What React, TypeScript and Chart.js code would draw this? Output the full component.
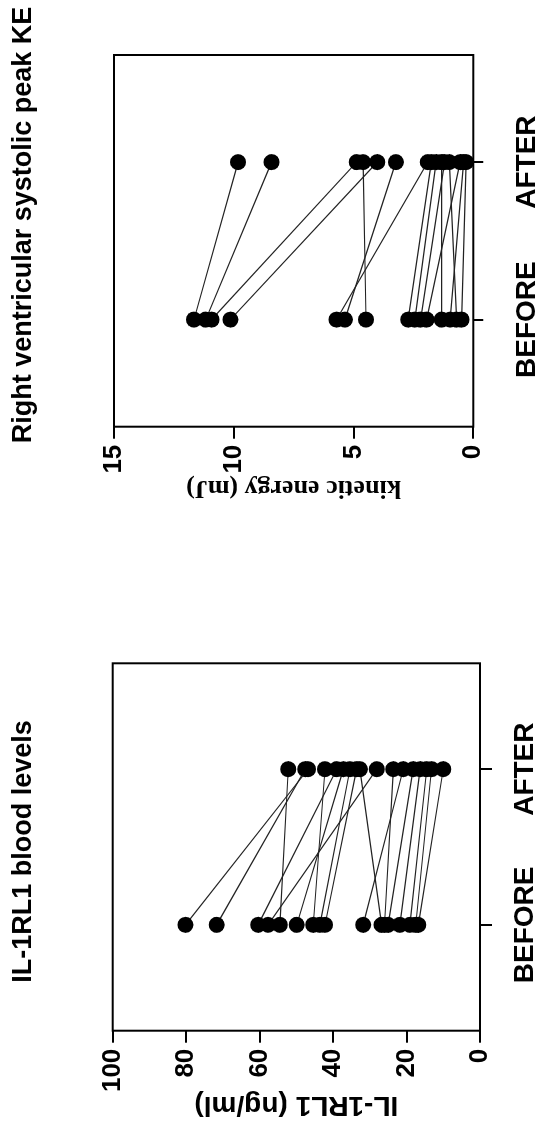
import React, { useEffect, useRef } from "react";
import { Chart, registerables } from "chart.js";
Chart.register(...registerables);

// ---------- data ----------
const categories = ["BEFORE", "AFTER"];

// Right ventricular systolic peak KE (mJ), one entry per subject
const keBefore = [11.66, 11.17, 10.93, 10.14, 5.71, 5.36, 4.48, 2.72, 2.44, 2.2, 1.95, 1.32, 0.97, 0.7, 0.49];
const keAfter = [9.82, 8.42, 4.87, 4.01, 1.9, 3.23, 4.6, 1.75, 1.55, 1.2, 0.55, 1.32, 0.4, 1.0, 0.3];
const keTicks = [0, 5, 10, 15];

// IL-1RL1 blood levels (ng/ml), one entry per subject
const ilBefore = [80.2, 71.7, 60.4, 57.7, 54.5, 49.9, 45.4, 43.6, 42.2, 31.8, 26.8, 26.0, 25.0, 21.8, 19.1, 17.5, 16.8];
const ilAfter = [46.8, 47.6, 39.0, 28.1, 52.2, 37.2, 42.2, 35.4, 33.6, 20.9, 32.7, 23.6, 18.2, 16.3, 14.5, 13.2, 10.0];
const ilTicks = [0, 20, 40, 60, 80, 100];

const SANS = "'Liberation Sans', Arial, sans-serif";
const SERIF = "'Liberation Serif', 'Times New Roman', serif";

// frame around the plot area + the chart heading drawn at a set centre
const framePlugin = {
  id: "plotFrame",
  afterDraw(chart: any, _args: any, opts: any) {
    const { ctx, chartArea: a } = chart;
    ctx.save();
    ctx.strokeStyle = "#000";
    ctx.lineWidth = 2;
    ctx.strokeRect(a.left, a.top, a.right - a.left, a.bottom - a.top);
    ctx.fillStyle = "#000";
    ctx.font = `bold ${opts.size}px ${SANS}`;
    ctx.textAlign = "center";
    ctx.textBaseline = "alphabetic";
    ctx.fillText(opts.text, opts.cx, opts.baseline);
    ctx.restore();
  },
};

type Spec = {
  title: string;
  titleCx: number;
  before: number[];
  after: number[];
  ticks: number[];
  yMax: number;
  yTitle: string;
  yTitleFont: any;
  yTitlePadTop: number;
  yWidth: number;
  xHeight: number;
  xTickLen: number;
  xPad: number;
  padRight: number;
  padTop: number;
};

function makeConfig(s: Spec): any {
  const datasets = s.before.map((b, i) => ({
    data: [
      { x: 0, y: b },
      { x: 1, y: s.after[i] },
    ],
    borderColor: "#222",
    borderWidth: 1.2,
    pointRadius: 8,
    pointBackgroundColor: "#000",
    pointBorderWidth: 0,
    showLine: true,
    fill: false,
  }));
  return {
    type: "scatter",
    data: { datasets },
    plugins: [framePlugin],
    options: {
      animation: false,
      responsive: false,
      events: [],
      layout: { padding: { left: 0, right: s.padRight, top: s.padTop, bottom: 0 } },
      plugins: {
        legend: { display: false },
        tooltip: { enabled: false },
        title: { display: false },
        plotFrame: { text: s.title, cx: s.titleCx, baseline: 30.5, size: 27 },
      },
      scales: {
        x: {
          type: "linear",
          min: -0.68,
          max: 1.68,
          afterBuildTicks: (sc: any) => {
            sc.ticks = categories.map((_, i) => ({ value: i }));
          },
          afterFit: (sc: any) => {
            sc.height = s.xHeight;
          },
          ticks: {
            callback: (v: any) => categories[v] ?? "",
            color: "#000",
            font: { family: SANS, size: 28, weight: "bold" },
            padding: s.xPad,
            maxRotation: 0,
            autoSkip: false,
          },
          grid: {
            display: true,
            drawOnChartArea: false,
            drawTicks: true,
            tickLength: s.xTickLen,
            color: "#000",
            lineWidth: 2,
          },
          border: { display: false },
        },
        y: {
          type: "linear",
          min: 0,
          max: s.yMax,
          afterBuildTicks: (sc: any) => {
            sc.ticks = s.ticks.map((v) => ({ value: v }));
          },
          afterFit: (sc: any) => {
            sc.width = s.yWidth;
          },
          ticks: {
            color: "#000",
            font: { family: SANS, size: 26, weight: "bold" },
            padding: 6,
          },
          grid: {
            display: true,
            drawOnChartArea: false,
            drawTicks: true,
            tickLength: 12,
            color: "#000",
            lineWidth: 2,
          },
          border: { display: false },
          title: {
            display: true,
            text: s.yTitle,
            color: "#000",
            font: s.yTitleFont,
            padding: { top: s.yTitlePadTop, bottom: 0 },
          },
        },
      },
    },
  };
}

function PairChart({ spec, left }: { spec: Spec; left: number }) {
  const ref = useRef<HTMLCanvasElement | null>(null);
  useEffect(() => {
    if (!ref.current) return;
    const chart = new Chart(ref.current, makeConfig(spec));
    return () => chart.destroy();
  }, []);
  return (
    <canvas
      ref={ref}
      width={569}
      height={541}
      style={{ position: "absolute", left, top: 0, width: 569, height: 541 }}
    />
  );
}

const ilSpec: Spec = {
  title: "IL-1RL1 blood levels",
  titleCx: 286.5,
  before: ilBefore,
  after: ilAfter,
  ticks: ilTicks,
  yMax: 100,
  yTitle: "IL-1RL1 (ng/ml)",
  yTitleFont: { family: SANS, size: 28, weight: "bold", lineHeight: 1.2 },
  yTitlePadTop: 16.2,
  yWidth: 107.3,
  xHeight: 61,
  xTickLen: 12,
  xPad: 16,
  padRight: 94.3,
  padTop: 112.7,
};

const keSpec: Spec = {
  title: "Right ventricular systolic peak KE",
  titleCx: 344,
  before: keBefore,
  after: keAfter,
  ticks: keTicks,
  yMax: 15,
  yTitle: "kinetic energy (mJ)",
  yTitleFont: { family: SERIF, size: 26, weight: "bold", lineHeight: 1.2 },
  yTitlePadTop: 65.4,
  yWidth: 142.3,
  xHeight: 67.7,
  xTickLen: 10,
  xPad: 27,
  padRight: 55,
  padTop: 114,
};

export default function App() {
  return (
    <div
      style={{
        position: "absolute",
        left: 0,
        top: 0,
        width: 1138,
        height: 541,
        background: "#fff",
        transformOrigin: "0 0",
        transform: "translate(0px, 1138px) rotate(-90deg)",
      }}
    >
      <PairChart spec={ilSpec} left={0} />
      <PairChart spec={keSpec} left={569} />
    </div>
  );
}
